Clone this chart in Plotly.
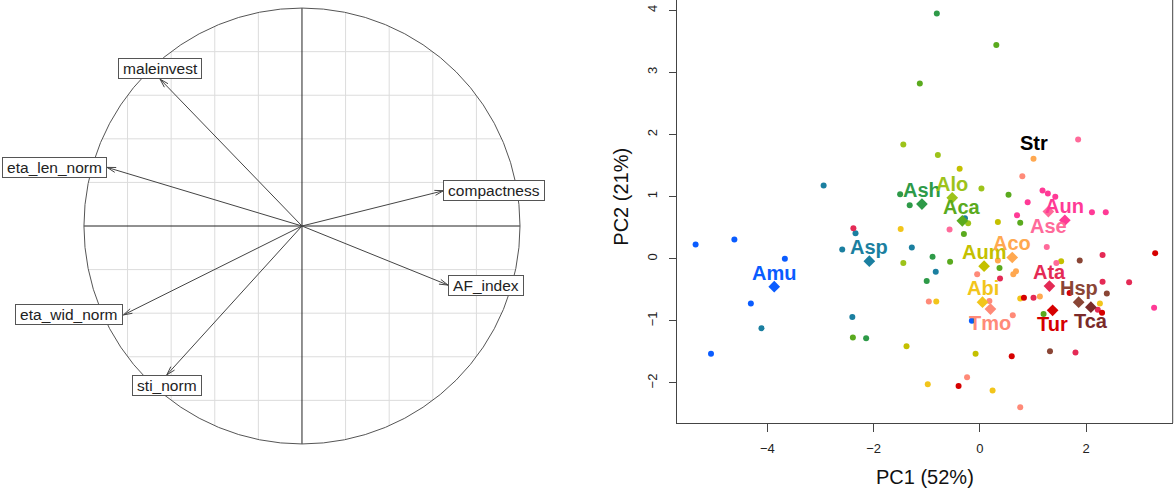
import numpy as np
import plotly.graph_objects as go

# ---- correlation circle: variable loadings on PC1 / PC2 ----
var_names = ["compactness", "AF_index", "sti_norm", "eta_wid_norm", "eta_len_norm", "maleinvest"]
var_pc1 = [0.649, 0.670, -0.620, -0.819, -0.894, -0.651]
var_pc2 = [0.162, -0.271, -0.683, -0.408, 0.269, 0.674]

# ---- individual scores per species ----
amu_pc1 = [-5.35, -4.62, -3.67, -4.31, -5.06, -0.15]
amu_pc2 = [0.23, 0.31, 0.00, -0.72, -1.53, -1.00]
asp_pc1 = [-2.94, -2.34, -2.59, -1.28, -0.83, -2.40, -4.11, -0.28]
asp_pc2 = [1.18, 0.41, 0.15, 0.18, -0.21, -0.94, -1.12, 0.65]
ash_pc1 = [-0.81, -1.50, -1.32, -1.00, -0.89, -2.14]
ash_pc2 = [3.95, 1.04, 0.86, -0.36, 0.03, -1.28]
aca_pc1 = [0.31, -1.13, 0.54, 0.76, -0.30, 0.37, 1.20, -2.39, -0.56]
aca_pc2 = [3.44, 2.82, 1.03, 0.58, 0.40, -0.15, -0.89, -1.27, -0.05]
alo_pc1 = [-1.44, -0.79, 0.03, -0.22, -1.44]
alo_pc2 = [1.84, 1.67, 1.13, 0.57, -0.07]
aum_pc1 = [-0.38, 1.53, -0.08, -1.38, 0.34]
aum_pc2 = [1.45, -0.04, -1.53, -1.41, 0.59]
abi_pc1 = [-1.49, -0.82, -0.98, 0.24, 0.76, 2.26]
abi_pc2 = [0.48, -0.69, -2.02, -2.12, -0.64, -0.72]
aco_pc1 = [1.01, 0.34, 0.68, 0.63, 1.13]
aco_pc2 = [1.61, -0.03, -0.20, -0.25, -0.61]
tmo_pc1 = [0.80, -0.05, -0.96, 0.18, 0.62, -0.24, 0.76]
tmo_pc2 = [1.33, -0.25, -0.69, -0.68, -0.91, -1.91, -2.39]
ase_pc1 = [1.85, -0.57, 1.26, 1.44]
ase_pc2 = [1.92, 0.47, 0.19, -0.07]
aun_pc1 = [1.18, 1.28, 1.42, 0.90, 0.70, 2.11, 2.37, 3.28]
aun_pc2 = [1.10, 1.05, 1.00, 0.91, 0.70, 0.75, 0.75, -0.79]
ata_pc1 = [-2.38, 0.38, 1.01, 2.31, 2.31, 2.81, 2.22, 1.80]
ata_pc2 = [0.49, -0.32, -0.63, 0.06, -0.37, -0.38, -0.82, -1.51]
tur_pc1 = [3.30, 1.69, 0.83, 2.30, 0.60, -0.40]
tur_pc2 = [0.09, -0.55, -0.63, -0.87, -1.57, -2.05]
hsp_pc1 = [1.88, 2.39, 1.32]
hsp_pc2 = [-0.03, -0.56, -1.49]

# ---- species centroids ----
centroid_names = ["Amu", "Asp", "Ash", "Alo", "Aca", "Aum", "Aco", "Abi", "Tmo",
                  "Aun", "Ase", "Ata", "Tur", "Hsp", "Tca", "Str"]
centroid_pc1 = [-3.87, -2.08, -1.09, -0.52, -0.33, 0.08, 0.61, 0.05, 0.20,
                1.60, 1.29, 1.31, 1.37, 1.86, 2.09, 1.01]
centroid_pc2 = [-0.45, -0.04, 0.88, 0.98, 0.61, -0.12, 0.02, -0.70, -0.81,
                0.62, 0.76, -0.44, -0.83, -0.70, -0.78, 1.64]

colors = {
    "Amu": "#0a5cff", "Asp": "#1b7fa0", "Ash": "#2e9a48", "Aca": "#5aaa1e",
    "Alo": "#9dc31a", "Aum": "#c4c000", "Abi": "#f2c51b", "Aco": "#ffa850",
    "Tmo": "#ff8a78", "Ase": "#ff6a9a", "Aun": "#ff3a96", "Ata": "#e42a55",
    "Tur": "#d60000", "Hsp": "#8a4535", "Tca": "#7a2a2a", "Str": "#000000",
}
labels_below = {"Tmo", "Tca", "Tur", "Ase"}

species = [
    ("Amu", amu_pc1, amu_pc2), ("Asp", asp_pc1, asp_pc2), ("Ash", ash_pc1, ash_pc2),
    ("Aca", aca_pc1, aca_pc2), ("Alo", alo_pc1, alo_pc2), ("Aum", aum_pc1, aum_pc2),
    ("Abi", abi_pc1, abi_pc2), ("Aco", aco_pc1, aco_pc2), ("Tmo", tmo_pc1, tmo_pc2),
    ("Ase", ase_pc1, ase_pc2), ("Aun", aun_pc1, aun_pc2), ("Ata", ata_pc1, ata_pc2),
    ("Tur", tur_pc1, tur_pc2), ("Hsp", hsp_pc1, hsp_pc2),
]

FONT = "Liberation Sans, Arial, Helvetica, sans-serif"
W, H = 1176, 493

fig = go.Figure()

# ---------------- left panel: correlation circle ----------------
grid_steps = [-0.8, -0.6, -0.4, -0.2, 0.2, 0.4, 0.6, 0.8]
gx, gy = [], []
for v in grid_steps:
    h = np.sqrt(1 - v * v)
    gx += [v, v, None, -h, h, None]
    gy += [-h, h, None, v, v, None]
fig.add_trace(go.Scatter(x=gx, y=gy, mode="lines", line=dict(color="#dcdcdc", width=1),
                         hoverinfo="skip", showlegend=False, xaxis="x", yaxis="y"))

fig.add_trace(go.Scatter(x=[-1, 1, None, 0, 0], y=[0, 0, None, -1, 1], mode="lines",
                         line=dict(color="#222222", width=1), hoverinfo="skip",
                         showlegend=False, xaxis="x", yaxis="y"))

# arrows from origin with open heads
head_len = 0.042
head_ang = np.deg2rad(16)
ax_, ay_ = [], []
for px, py in zip(var_pc1, var_pc2):
    ax_ += [0, px, None]
    ay_ += [0, py, None]
    ang = np.arctan2(py, px)
    for s in (1, -1):
        a = ang + np.pi + s * head_ang
        ax_ += [px + head_len * np.cos(a), px, None]
        ay_ += [py + head_len * np.sin(a), py, None]
fig.add_trace(go.Scatter(x=ax_, y=ay_, mode="lines", line=dict(color="#444444", width=1),
                         hoverinfo="skip", showlegend=False, xaxis="x", yaxis="y"))

fig.add_shape(type="circle", xref="x", yref="y", x0=-1, y0=-1, x1=1, y1=1,
              line=dict(color="#555555", width=1), layer="above")

# boxed variable labels placed just outside each arrow tip
for name, px, py in zip(var_names, var_pc1, var_pc2):
    if abs(px) >= abs(py):
        xa, ya = ("left" if px > 0 else "right"), "middle"
    else:
        xa, ya = "center", ("bottom" if py > 0 else "top")
    fig.add_annotation(x=px, y=py, xref="x", yref="y",
                       text="\u2009" + name + "\u2009", showarrow=False,
                       xanchor=xa, yanchor=ya, bgcolor="white", bordercolor="#555555",
                       borderwidth=1, borderpad=1,
                       font=dict(family=FONT, size=15.5, color="#222222"))

# ---------------- right panel: individual scores ----------------
for name, xs, ys in species:
    fig.add_trace(go.Scatter(x=xs, y=ys, mode="markers", name=name,
                             marker=dict(symbol="circle", size=6, color=colors[name],
                                         line=dict(width=0)),
                             showlegend=False, xaxis="x2", yaxis="y2"))

for name, cx, cy in zip(centroid_names, centroid_pc1, centroid_pc2):
    if name == "Str":
        continue
    fig.add_trace(go.Scatter(x=[cx], y=[cy], mode="markers",
                             marker=dict(symbol="diamond", size=9, color=colors[name],
                                         line=dict(width=0)),
                             showlegend=False, xaxis="x2", yaxis="y2"))

for name, cx, cy in zip(centroid_names, centroid_pc1, centroid_pc2):
    shift = -14 if name in labels_below else 14
    fig.add_annotation(x=cx, y=cy, xref="x2", yref="y2", text="<b>%s</b>" % name,
                       showarrow=False, yshift=shift, xanchor="center", yanchor="middle",
                       font=dict(family=FONT, size=20, color=colors[name]))

# frame: right side (top edge lies above the visible area)
fig.add_shape(type="line", xref="x2 domain", yref="y2 domain", x0=1, x1=1, y0=0, y1=1,
              line=dict(color="#444444", width=1))

fig.add_annotation(x=(677 + 1172.7) / 2 / W, y=1 - 476.7 / H, xref="paper", yref="paper",
                   text="PC1 (52%)", showarrow=False, xanchor="center", yanchor="middle",
                   font=dict(family=FONT, size=20, color="#111111"))
fig.add_annotation(x=620.7 / W, y=1 - 197 / H, xref="paper", yref="paper",
                   text="PC2 (21%)", showarrow=False, textangle=-90,
                   xanchor="center", yanchor="middle",
                   font=dict(family=FONT, size=20, color="#111111"))

fig.update_layout(
    width=W, height=H,
    margin=dict(l=0, r=0, t=0, b=0),
    paper_bgcolor="white", plot_bgcolor="white",
    showlegend=False,
    xaxis=dict(domain=[0, 590 / W], range=[-1.385, 1.321], visible=False, fixedrange=True),
    yaxis=dict(domain=[0, 1], range=[-1.225, 1.037], visible=False, fixedrange=True),
    xaxis2=dict(domain=[677 / W, 1172.7 / W], range=[-5.70, 3.63], anchor="y2",
                tickvals=[-4, -2, 0, 2], showline=True, linecolor="#444444", linewidth=1,
                ticks="outside", ticklen=8, tickcolor="#444444", showgrid=False,
                zeroline=False, ticklabelstandoff=5,
                tickfont=dict(family=FONT, size=13, color="#222222")),
    yaxis2=dict(domain=[70 / H, 1], range=[-2.645, 4.166], anchor="x2",
                tickvals=[-2, -1, 0, 1, 2, 3, 4], showline=True, linecolor="#444444",
                linewidth=1, ticks="outside", ticklen=7, tickcolor="#444444",
                showgrid=False, zeroline=False, tickangle=-90, ticklabelstandoff=7,
                tickfont=dict(family=FONT, size=13, color="#222222")),
)

fig.write_html("out.html")
